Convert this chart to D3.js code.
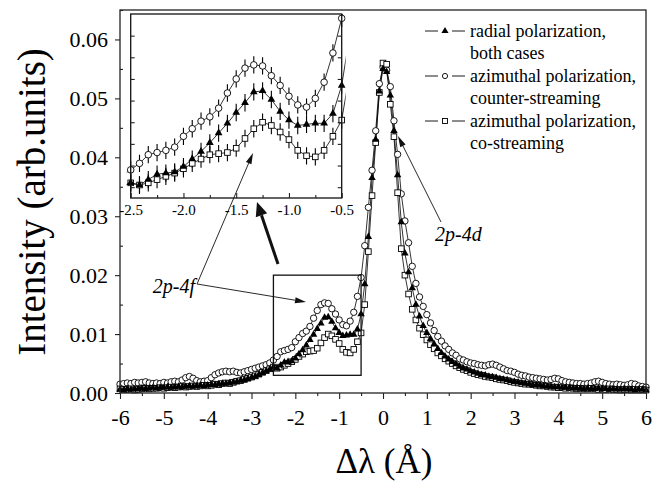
<!DOCTYPE html>
<html>
<head>
<meta charset="utf-8">
<script src="https://cdn.jsdelivr.net/npm/d3@7"></script>
<style>
  body { margin: 0; background: #fff; }
</style>
</head>
<body>
<svg id="chart" width="664" height="483"></svg>
<script>
// wavelength grid: -6 .. 6 Å, 1/12 Å per channel
const lambdaStart = -6;
const lambdaStep = 1 / 12;

// radial polarization, both cases (filled triangles)
const radialBoth = [
  0.0006, 0.0005, 0.0007, 0.0006, 0.0006, 0.0007, 0.0008, 0.0007, 0.0008, 0.0009, 0.0008, 0.0009,
  0.0009, 0.0010, 0.0009, 0.0010, 0.0011, 0.0010, 0.0011, 0.0012, 0.0011, 0.0012, 0.0013, 0.0012,
  0.0013, 0.0014, 0.0014, 0.0015, 0.0016, 0.0016, 0.0017, 0.0018, 0.0019, 0.0021, 0.0022, 0.0024,
  0.0026, 0.0028, 0.0031, 0.0034, 0.0037, 0.0040,
  0.0044, 0.0042, 0.0047, 0.0052, 0.0053, 0.0054, 0.0059, 0.0066, 0.0073, 0.0081, 0.0090, 0.0099,
  0.0109, 0.0118, 0.0128, 0.0129, 0.0121, 0.0110, 0.0102, 0.0097, 0.0098, 0.0099, 0.0099, 0.0108, 0.0134,
  0.0185, 0.0265, 0.0365, 0.0430, 0.0512,
  0.0550, 0.0545, 0.0505, 0.0445, 0.0370, 0.0290, 0.0237, 0.0205, 0.0178, 0.0150, 0.0130, 0.0114, 0.0102,
  0.0092, 0.0083, 0.0075, 0.0068, 0.0062, 0.0057, 0.0053, 0.0049, 0.0045, 0.0042, 0.0040, 0.0037,
  0.0035, 0.0033, 0.0031, 0.0030, 0.0028, 0.0027, 0.0026, 0.0024, 0.0023, 0.0022, 0.0020, 0.0019,
  0.0018, 0.0017, 0.0016, 0.0015, 0.0014, 0.0013, 0.0013, 0.0012, 0.0011, 0.0011, 0.0010, 0.0010,
  0.0009, 0.0009, 0.0009, 0.0008, 0.0008, 0.0008, 0.0007, 0.0008, 0.0007, 0.0007, 0.0008, 0.0007,
  0.0007, 0.0006, 0.0007, 0.0006, 0.0006, 0.0007, 0.0006, 0.0006, 0.0005, 0.0006, 0.0006, 0.0005
];

// azimuthal polarization, counter-streaming (open circles)
const aziCounter = [
  0.0015, 0.0016, 0.0017, 0.0016, 0.0018, 0.0017, 0.0018, 0.0019, 0.0017, 0.0016, 0.0017, 0.0016,
  0.0018, 0.0017, 0.0019, 0.0020, 0.0019, 0.0022, 0.0026, 0.0028, 0.0025, 0.0021, 0.0019, 0.0020,
  0.0021, 0.0026, 0.0031, 0.0034, 0.0036, 0.0037, 0.0036, 0.0037, 0.0035, 0.0034, 0.0036, 0.0038,
  0.0040, 0.0042, 0.0044, 0.0046, 0.0048, 0.0051,
  0.0056, 0.0062, 0.0070, 0.0072, 0.0074, 0.0077, 0.0087, 0.0094, 0.0101, 0.0105, 0.0113, 0.0127,
  0.0140, 0.0150, 0.0153, 0.0152, 0.0143, 0.0134, 0.0124, 0.0116, 0.0114, 0.0122, 0.0137, 0.0164, 0.0196,
  0.0250, 0.0315, 0.0378, 0.0445, 0.0525,
  0.0553, 0.0548, 0.0520, 0.0462, 0.0405, 0.0338, 0.0292, 0.0255, 0.0215, 0.0186, 0.0163, 0.0147, 0.0133,
  0.0119, 0.0106, 0.0096, 0.0088, 0.0080, 0.0074, 0.0068, 0.0064, 0.0058, 0.0056, 0.0053, 0.0051,
  0.0050, 0.0048, 0.0047, 0.0046, 0.0048, 0.0049, 0.0047, 0.0044, 0.0041, 0.0038, 0.0037, 0.0035,
  0.0032, 0.0030, 0.0029, 0.0027, 0.0026, 0.0025, 0.0024, 0.0023, 0.0022, 0.0023, 0.0025, 0.0024,
  0.0021, 0.0019, 0.0018, 0.0017, 0.0016, 0.0016, 0.0015, 0.0016, 0.0017, 0.0019, 0.0020, 0.0018,
  0.0016, 0.0015, 0.0014, 0.0015, 0.0014, 0.0013, 0.0014, 0.0016, 0.0015, 0.0012, 0.0011, 0.0010
];

// azimuthal polarization, co-streaming (open squares)
const aziCo = [
  0.0007, 0.0006, 0.0006, 0.0007, 0.0005, 0.0006, 0.0007, 0.0008, 0.0007, 0.0008, 0.0008, 0.0009,
  0.0008, 0.0009, 0.0010, 0.0009, 0.0010, 0.0011, 0.0010, 0.0011, 0.0012, 0.0011, 0.0012, 0.0013,
  0.0012, 0.0013, 0.0015, 0.0014, 0.0016, 0.0017, 0.0016, 0.0018, 0.0020, 0.0021, 0.0023, 0.0025,
  0.0027, 0.0029, 0.0032, 0.0035, 0.0038, 0.0041,
  0.0044, 0.0042, 0.0044, 0.0047, 0.0050, 0.0053, 0.0057, 0.0062, 0.0066, 0.0070, 0.0071, 0.0072,
  0.0076, 0.0085, 0.0094, 0.0100, 0.0097, 0.0091, 0.0084, 0.0074, 0.0069, 0.0068, 0.0074, 0.0087, 0.0102,
  0.0150, 0.0240, 0.0335, 0.0425, 0.0510,
  0.0560, 0.0558, 0.0490, 0.0435, 0.0340, 0.0245, 0.0200, 0.0168, 0.0142, 0.0124, 0.0110, 0.0099, 0.0090,
  0.0082, 0.0075, 0.0068, 0.0063, 0.0058, 0.0054, 0.0050, 0.0046, 0.0043, 0.0040, 0.0038, 0.0035,
  0.0033, 0.0031, 0.0030, 0.0028, 0.0027, 0.0026, 0.0024, 0.0023, 0.0022, 0.0021, 0.0019, 0.0018,
  0.0017, 0.0016, 0.0015, 0.0015, 0.0014, 0.0013, 0.0012, 0.0012, 0.0011, 0.0010, 0.0010, 0.0009,
  0.0009, 0.0008, 0.0009, 0.0008, 0.0007, 0.0008, 0.0007, 0.0007, 0.0008, 0.0007, 0.0006, 0.0007,
  0.0006, 0.0007, 0.0006, 0.0006, 0.0005, 0.0006, 0.0006, 0.0005, 0.0006, 0.0005, 0.0006, 0.0005
];

const errorBar = 0.0008; // half length of inset error bars

// tick values
const yTicks = [0, 0.01, 0.02, 0.03, 0.04, 0.05, 0.06];
const yMinorTicks = [0.005, 0.015, 0.025, 0.035, 0.045, 0.055, 0.065];
const xTicks = [-6, -5, -4, -3, -2, -1, 0, 1, 2, 3, 4, 5, 6];
const xMinorTicks = [-5.5, -4.5, -3.5, -2.5, -1.5, -0.5, 0.5, 1.5, 2.5, 3.5, 4.5, 5.5];
const insetXTicks = [-2.5, -2.0, -1.5, -1.0, -0.5];
const insetXMinor = [-2.25, -1.75, -1.25, -0.75];
const insetYTicks = [0.004, 0.006, 0.008, 0.010, 0.012, 0.014, 0.016, 0.018];

// legend text
const legendItems = [
  { key: "tri", lines: ["radial polarization,", "both cases"] },
  { key: "circ", lines: ["azimuthal polarization,", "counter-streaming"] },
  { key: "sq", lines: ["azimuthal polarization,", "co-streaming"] }
];

const serif = '"Liberation Serif"';

// build point tables
function toPoints(values) {
  return values.map((v, i) => ({ x: lambdaStart + i * lambdaStep, y: v }));
}
const series = [
  { key: "circ", points: toPoints(aziCounter) },
  { key: "sq", points: toPoints(aziCo) },
  { key: "tri", points: toPoints(radialBoth) }
];

const svg = d3.select("#chart");

// main plot area
const plotL = 120, plotR = 646, plotT = 10, plotB = 393;
const x = d3.scaleLinear().domain([-6, 6]).range([plotL, plotR]);
const y = d3.scaleLinear().domain([0, 0.065]).range([plotB, plotT]);

// inset area
const inL = 130.7, inR = 341.7, inT = 14, inB = 198;
const ix = d3.scaleLinear().domain([-2.5, -0.5]).range([inL, inR]);
const iy = d3.scaleLinear().domain([0.003, 0.020]).range([inB, inT]);

// marker drawing
function drawMarkers(g, pts, key, sx, sy, size) {
  if (key === "circ") {
    g.selectAll("circle").data(pts).enter().append("circle")
      .attr("cx", d => sx(d.x)).attr("cy", d => sy(d.y)).attr("r", size.r)
      .attr("fill", "#fff").attr("stroke", "#000").attr("stroke-width", 0.9);
  } else if (key === "sq") {
    g.selectAll("rect").data(pts).enter().append("rect")
      .attr("x", d => sx(d.x) - size.s / 2).attr("y", d => sy(d.y) - size.s / 2)
      .attr("width", size.s).attr("height", size.s)
      .attr("fill", "#fff").attr("stroke", "#000").attr("stroke-width", 0.9);
  } else {
    const tri = d3.symbol().type(d3.symbolTriangle).size(size.t)();
    g.selectAll("path").data(pts).enter().append("path")
      .attr("d", tri)
      .attr("transform", d => `translate(${sx(d.x)},${sy(d.y)})`)
      .attr("fill", "#000");
  }
}

// ---- main plot ----
const mainG = svg.append("g");
series.forEach(s => {
  const line = d3.line().x(d => x(d.x)).y(d => y(d.y));
  mainG.append("path").attr("d", line(s.points))
    .attr("fill", "none").attr("stroke", "#000").attr("stroke-width", 0.8);
});
series.forEach(s => {
  drawMarkers(mainG.append("g"), s.points, s.key, x, y, { r: 3.2, s: 5.6, t: 24 });
});

// frame
svg.append("rect").attr("x", plotL).attr("y", plotT)
  .attr("width", plotR - plotL).attr("height", plotB - plotT)
  .attr("fill", "none").attr("stroke", "#222").attr("stroke-width", 1.3);

// y axis
const yAxis = svg.append("g").attr("transform", `translate(${plotL},0)`)
  .call(d3.axisLeft(y).tickValues(yTicks).tickSize(5).tickPadding(7).tickFormat(d3.format(".2f")));
yAxis.select(".domain").remove();
yAxis.selectAll("text").attr("font-size", 22);
const yMinor = svg.append("g").attr("transform", `translate(${plotL},0)`)
  .call(d3.axisLeft(y).tickValues(yMinorTicks).tickSize(-3).tickFormat(""));
yMinor.select(".domain").remove();

// x axis
const xAxis = svg.append("g").attr("transform", `translate(0,${plotB})`)
  .call(d3.axisBottom(x).tickValues(xTicks).tickSize(6).tickPadding(10).tickFormat(d => String(d)));
xAxis.select(".domain").remove();
xAxis.selectAll("text").attr("font-size", 22);
const xMinor = svg.append("g").attr("transform", `translate(0,${plotB})`)
  .call(d3.axisBottom(x).tickValues(xMinorTicks).tickSize(3).tickFormat(""));
xMinor.select(".domain").remove();

// axis titles
svg.append("text")
  .attr("transform", "translate(45,202) rotate(-90)")
  .attr("text-anchor", "middle")
  .attr("font-size", 39)
  .text("Intensity (arb.units)");
svg.append("text")
  .attr("x", 384).attr("y", 473)
  .attr("text-anchor", "middle")
  .attr("font-size", 35)
  .text("Δλ (Å)");

// zoom box in the main plot
svg.append("rect")
  .attr("x", x(-2.5)).attr("y", y(0.020))
  .attr("width", x(-0.5) - x(-2.5)).attr("height", y(0.003) - y(0.020))
  .attr("fill", "none").attr("stroke", "#111").attr("stroke-width", 1.3);

// ---- inset ----
svg.append("defs").append("clipPath").attr("id", "insetClip")
  .append("rect").attr("x", inL - 4).attr("y", inT).attr("width", inR - inL + 8).attr("height", inB - inT);
svg.append("rect").attr("x", inL).attr("y", inT)
  .attr("width", inR - inL).attr("height", inB - inT).attr("fill", "#fff");

const insetG = svg.append("g").attr("clip-path", "url(#insetClip)");
series.forEach(s => {
  const pts = s.points.filter(d => d.x >= -2.55 && d.x <= -0.45);
  const wide = s.points.filter(d => d.x >= -2.6 && d.x <= -0.4);
  const line = d3.line().x(d => ix(d.x)).y(d => iy(d.y));
  insetG.append("path").attr("d", line(wide))
    .attr("fill", "none").attr("stroke", "#000").attr("stroke-width", 0.8);
  insetG.append("g").selectAll("line").data(pts).enter().append("line")
    .attr("x1", d => ix(d.x)).attr("x2", d => ix(d.x))
    .attr("y1", d => iy(d.y - errorBar)).attr("y2", d => iy(d.y + errorBar))
    .attr("stroke", "#000").attr("stroke-width", 1.1);
});
series.forEach(s => {
  const pts = s.points.filter(d => d.x >= -2.55 && d.x <= -0.45);
  drawMarkers(insetG.append("g"), pts, s.key, ix, iy, { r: 3.3, s: 5.6, t: 26 });
});

svg.append("rect").attr("x", inL).attr("y", inT)
  .attr("width", inR - inL).attr("height", inB - inT)
  .attr("fill", "none").attr("stroke", "#111").attr("stroke-width", 1.3);

// inset ticks (inward)
const inAxisB = svg.append("g").attr("transform", `translate(0,${inB})`)
  .call(d3.axisBottom(ix).tickValues(insetXTicks).tickSize(-5).tickPadding(6).tickFormat(d => d.toFixed(1)));
inAxisB.select(".domain").remove();
inAxisB.selectAll("text").attr("font-size", 15);
const inAxisBm = svg.append("g").attr("transform", `translate(0,${inB})`)
  .call(d3.axisBottom(ix).tickValues(insetXMinor).tickSize(-3).tickFormat(""));
inAxisBm.select(".domain").remove();
const inAxisL = svg.append("g").attr("transform", `translate(${inL},0)`)
  .call(d3.axisLeft(iy).tickValues(insetYTicks).tickSize(-4).tickFormat(""));
inAxisL.select(".domain").remove();
const inAxisR = svg.append("g").attr("transform", `translate(${inR},0)`)
  .call(d3.axisRight(iy).tickValues(insetYTicks).tickSize(-4).tickFormat(""));
inAxisR.select(".domain").remove();

svg.selectAll(".tick line").attr("stroke", "#222").attr("stroke-width", 1.1);

// ---- annotations ----
function arrow(x1, y1, x2, y2, w, headLen, headHalf) {
  const a = Math.atan2(y2 - y1, x2 - x1);
  const bx = x2 - headLen * Math.cos(a), by = y2 - headLen * Math.sin(a);
  svg.append("line").attr("x1", x1).attr("y1", y1).attr("x2", bx).attr("y2", by)
    .attr("stroke", "#111").attr("stroke-width", w);
  const px = -Math.sin(a) * headHalf, py = Math.cos(a) * headHalf;
  svg.append("path")
    .attr("d", `M${x2},${y2}L${bx + px},${by + py}L${bx - px},${by - py}Z`)
    .attr("fill", "#111");
}

arrow(441, 222, 398, 136, 0.9, 11, 3);
svg.append("text").attr("x", 435).attr("y", 241)
  .attr("font-size", 20).attr("font-style", "italic").text("2p-4d");

arrow(197, 284, 306, 302, 0.9, 11, 3);
arrow(197, 284, 253, 153, 0.9, 11, 3);
svg.append("text").attr("x", 195).attr("y", 293).attr("text-anchor", "end")
  .attr("font-size", 20).attr("font-style", "italic").text("2p-4f");

arrow(278, 264, 257, 202, 3, 14, 6);

// ---- legend ----
const legendY = [31, 76, 121];
legendItems.forEach((item, i) => {
  const cy = legendY[i];
  const g = svg.append("g");
  g.append("line").attr("x1", 425).attr("x2", 438).attr("y1", cy).attr("y2", cy).attr("stroke", "#000").attr("stroke-width", 0.9);
  g.append("line").attr("x1", 452).attr("x2", 465).attr("y1", cy).attr("y2", cy).attr("stroke", "#000").attr("stroke-width", 0.9);
  if (item.key === "circ") {
    g.append("circle").attr("cx", 445).attr("cy", cy).attr("r", 2.6).attr("fill", "#fff").attr("stroke", "#000").attr("stroke-width", 0.9);
  } else if (item.key === "sq") {
    g.append("rect").attr("x", 442.5).attr("y", cy - 2.5).attr("width", 5).attr("height", 5).attr("fill", "#fff").attr("stroke", "#000").attr("stroke-width", 0.9);
  } else {
    g.append("path").attr("d", d3.symbol().type(d3.symbolTriangle).size(22)()).attr("transform", `translate(445,${cy})`).attr("fill", "#000");
  }
  item.lines.forEach((t, j) => {
    g.append("text").attr("x", 470).attr("y", cy + 6 + j * 22).attr("font-size", 18).text(t);
  });
});

// serif face on every label, including axis text
svg.selectAll("g").attr("font-family", null);
svg.selectAll("text").style("font-family", serif).attr("fill", "#000");
</script>
</body>
</html>
